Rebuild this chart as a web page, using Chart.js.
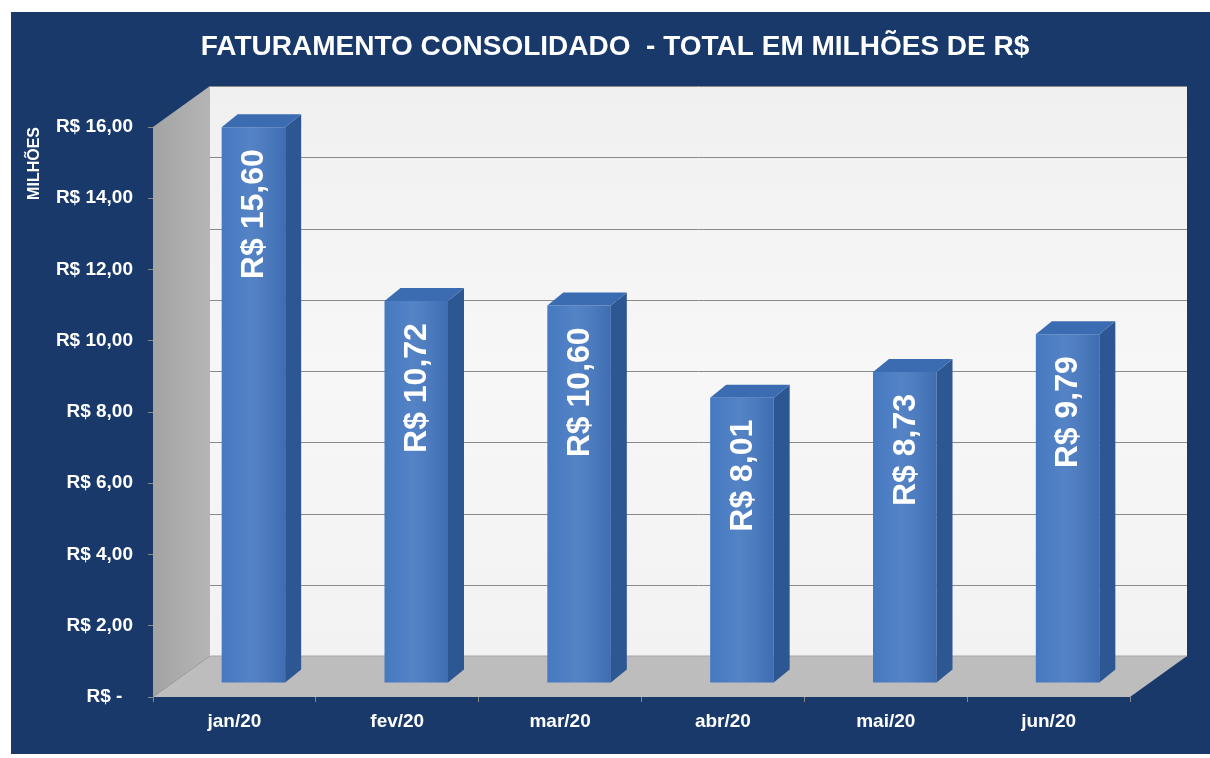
<!DOCTYPE html>
<html>
<head>
<meta charset="utf-8">
<style>
  html, body { margin: 0; padding: 0; background: #ffffff; }
  #wrap { width: 1210px; height: 758px; }
</style>
<script src="https://cdn.jsdelivr.net/npm/chart.js@4.4.1/dist/chart.umd.min.js"></script>
</head>
<body>
<div id="wrap"><canvas id="c" width="1210" height="758"></canvas></div>
<script>
// ---- data ----
const categories = ['jan/20', 'fev/20', 'mar/20', 'abr/20', 'mai/20', 'jun/20'];
const revenue = [15.60, 10.72, 10.60, 8.01, 8.73, 9.79];
const valueLabels = ['R$ 15,60', 'R$ 10,72', 'R$ 10,60', 'R$ 8,01', 'R$ 8,73', 'R$ 9,79'];
const yTickValues = [0, 2, 4, 6, 8, 10, 12, 14, 16];
const yTickLabels = ['R$ -  ', 'R$ 2,00', 'R$ 4,00', 'R$ 6,00', 'R$ 8,00', 'R$ 10,00', 'R$ 12,00', 'R$ 14,00', 'R$ 16,00'];
const chartTitle = 'FATURAMENTO CONSOLIDADO  - TOTAL EM MILHÕES DE R$';
const yAxisTitle = 'MILHÕES';

// ---- style ----
const FONT = '"Liberation Sans", Arial, sans-serif';
const NAVY = '#18396a';
const WALL_DX = 57, WALL_DY = -41;     // depth of the 3D box
const BAR_DX = 19, BAR_DY = -14;       // bar position inside the depth
const SIDE_DX = 16, SIDE_DY = -13;     // bar thickness

Chart.defaults.font.family = FONT;

const box3d = {
  id: 'box3d',
  beforeDraw(chart) {
    const ctx = chart.ctx;
    ctx.save();
    ctx.fillStyle = '#ffffff';
    ctx.fillRect(0, 0, chart.width, chart.height);
    ctx.fillStyle = NAVY;
    ctx.fillRect(11, 12, chart.width - 11, chart.height - 16);
    ctx.restore();
  },
  beforeDatasetsDraw(chart) {
    const ctx = chart.ctx;
    const y = chart.scales.y;
    const L = chart.chartArea.left, R = chart.chartArea.right;
    const T = y.getPixelForValue(yTickValues[yTickValues.length - 1]);
    const B = y.getPixelForValue(0);
    ctx.save();
    // back wall
    let g = ctx.createLinearGradient(0, T + WALL_DY, 0, B + WALL_DY);
    g.addColorStop(0, '#f0f0f0');
    g.addColorStop(0.5, '#f7f7f7');
    g.addColorStop(1, '#f2f2f2');
    ctx.fillStyle = g;
    ctx.fillRect(L + WALL_DX, T + WALL_DY, R - L, B - T);
    // grid lines on back wall
    ctx.strokeStyle = '#8a8a8a';
    ctx.lineWidth = 1;
    yTickValues.forEach(v => {
      if (v === 0) return;
      const py = Math.round(y.getPixelForValue(v) + WALL_DY) + 0.5;
      ctx.beginPath();
      ctx.moveTo(L + WALL_DX, py);
      ctx.lineTo(R + WALL_DX, py);
      ctx.stroke();
    });
    // left wall
    g = ctx.createLinearGradient(L, 0, L + WALL_DX, 0);
    g.addColorStop(0, '#a3a3a3');
    g.addColorStop(1, '#b5b5b5');
    ctx.fillStyle = g;
    ctx.beginPath();
    ctx.moveTo(L, B);
    ctx.lineTo(L, T);
    ctx.lineTo(L + WALL_DX, T + WALL_DY);
    ctx.lineTo(L + WALL_DX, B + WALL_DY);
    ctx.closePath();
    ctx.fill();
    // floor
    ctx.fillStyle = '#bdbdbd';
    ctx.beginPath();
    ctx.moveTo(L, B);
    ctx.lineTo(R, B);
    ctx.lineTo(R + WALL_DX, B + WALL_DY);
    ctx.lineTo(L + WALL_DX, B + WALL_DY);
    ctx.closePath();
    ctx.fill();
    ctx.strokeStyle = '#a8a8a8';
    ctx.beginPath();
    ctx.moveTo(L + WALL_DX + 0.5, B + WALL_DY);
    ctx.lineTo(R + WALL_DX, B + WALL_DY);
    ctx.stroke();
    ctx.restore();
    // shift bars into the depth
    ctx.save();
    ctx.translate(BAR_DX, BAR_DY);
  },
  afterDatasetsDraw(chart) {
    const ctx = chart.ctx;
    ctx.restore();
    const meta = chart.getDatasetMeta(0);
    ctx.save();
    meta.data.forEach((bar, i) => {
      const p = bar.getProps(['x', 'y', 'base', 'width'], true);
      const xl = p.x - p.width / 2 + BAR_DX;
      const xr = p.x + p.width / 2 + BAR_DX;
      const yt = p.y + BAR_DY;
      const yb = p.base + BAR_DY;
      // front face shading
      const g = ctx.createLinearGradient(xl, 0, xr, 0);
      g.addColorStop(0, 'rgba(255,255,255,0.00)');
      g.addColorStop(0.45, 'rgba(255,255,255,0.08)');
      g.addColorStop(1, 'rgba(0,0,40,0.10)');
      ctx.fillStyle = g;
      ctx.fillRect(xl, yt, xr - xl, yb - yt);
      // side face
      ctx.fillStyle = '#2c5792';
      ctx.beginPath();
      ctx.moveTo(xr, yt);
      ctx.lineTo(xr + SIDE_DX, yt + SIDE_DY);
      ctx.lineTo(xr + SIDE_DX, yb + SIDE_DY);
      ctx.lineTo(xr, yb);
      ctx.closePath();
      ctx.fill();
      // top face
      ctx.fillStyle = '#3b6bb0';
      ctx.beginPath();
      ctx.moveTo(xl, yt);
      ctx.lineTo(xl + SIDE_DX, yt + SIDE_DY);
      ctx.lineTo(xr + SIDE_DX, yt + SIDE_DY);
      ctx.lineTo(xr, yt);
      ctx.closePath();
      ctx.fill();
      // value label
      ctx.save();
      ctx.translate((xl + xr) / 2, yt + 22);
      ctx.rotate(-Math.PI / 2);
      ctx.fillStyle = '#ffffff';
      ctx.font = 'bold 32px ' + FONT;
      ctx.textAlign = 'right';
      ctx.textBaseline = 'middle';
      ctx.fillText(valueLabels[i], 0, 1);
      ctx.restore();
    });
    ctx.restore();
  }
};

new Chart(document.getElementById('c'), {
  type: 'bar',
  data: {
    labels: categories,
    datasets: [{
      data: revenue,
      backgroundColor: '#4679c1',
      borderWidth: 0,
      categoryPercentage: 1.0,
      barPercentage: 0.39,
      clip: false
    }]
  },
  options: {
    responsive: false,
    animation: false,
    events: [],
    layout: { padding: { left: 20, right: 0, top: 0, bottom: 0 } },
    plugins: {
      legend: { display: false },
      tooltip: { enabled: false },
      title: {
        display: true,
        text: chartTitle,
        color: '#ffffff',
        font: { size: 28, weight: 'bold', family: FONT },
        padding: { top: 30, bottom: 63.4 }
      }
    },
    scales: {
      x: {
        offset: true,
        afterFit(scale) { scale.height = 61; },
        grid: { display: true, offset: true, drawOnChartArea: false, drawTicks: true, tickLength: 5, color: '#8a8a8a' },
        border: { display: false },
        ticks: { color: '#ffffff', font: { size: 19, weight: 'bold' }, padding: 8, maxRotation: 0 }
      },
      y: {
        min: 0,
        max: 16,
        afterFit(scale) { scale.width = 133; },
        afterBuildTicks(scale) { scale.ticks = yTickValues.map(v => ({ value: v })); },
        grid: { display: true, drawOnChartArea: false, drawTicks: true, tickLength: 5, color: '#8a8a8a' },
        border: { display: false },
        ticks: {
          color: '#ffffff',
          font: { size: 19, weight: 'bold' },
          padding: 15,
          callback: (v) => { const k = yTickValues.indexOf(v); return k >= 0 ? yTickLabels[k] : ''; }
        },
        title: {
          display: true,
          text: yAxisTitle,
          align: 'end',
          color: '#ffffff',
          font: { size: 16, weight: 'bold', family: FONT },
          padding: { top: 5, bottom: 0 }
        }
      },
      ySpace: {
        position: 'right',
        display: true,
        min: 0,
        max: 16,
        afterFit(scale) { scale.width = 80; },
        grid: { display: false, drawTicks: false },
        border: { display: false },
        ticks: { display: false }
      }
    }
  },
  plugins: [box3d]
});
</script>
</body>
</html>
